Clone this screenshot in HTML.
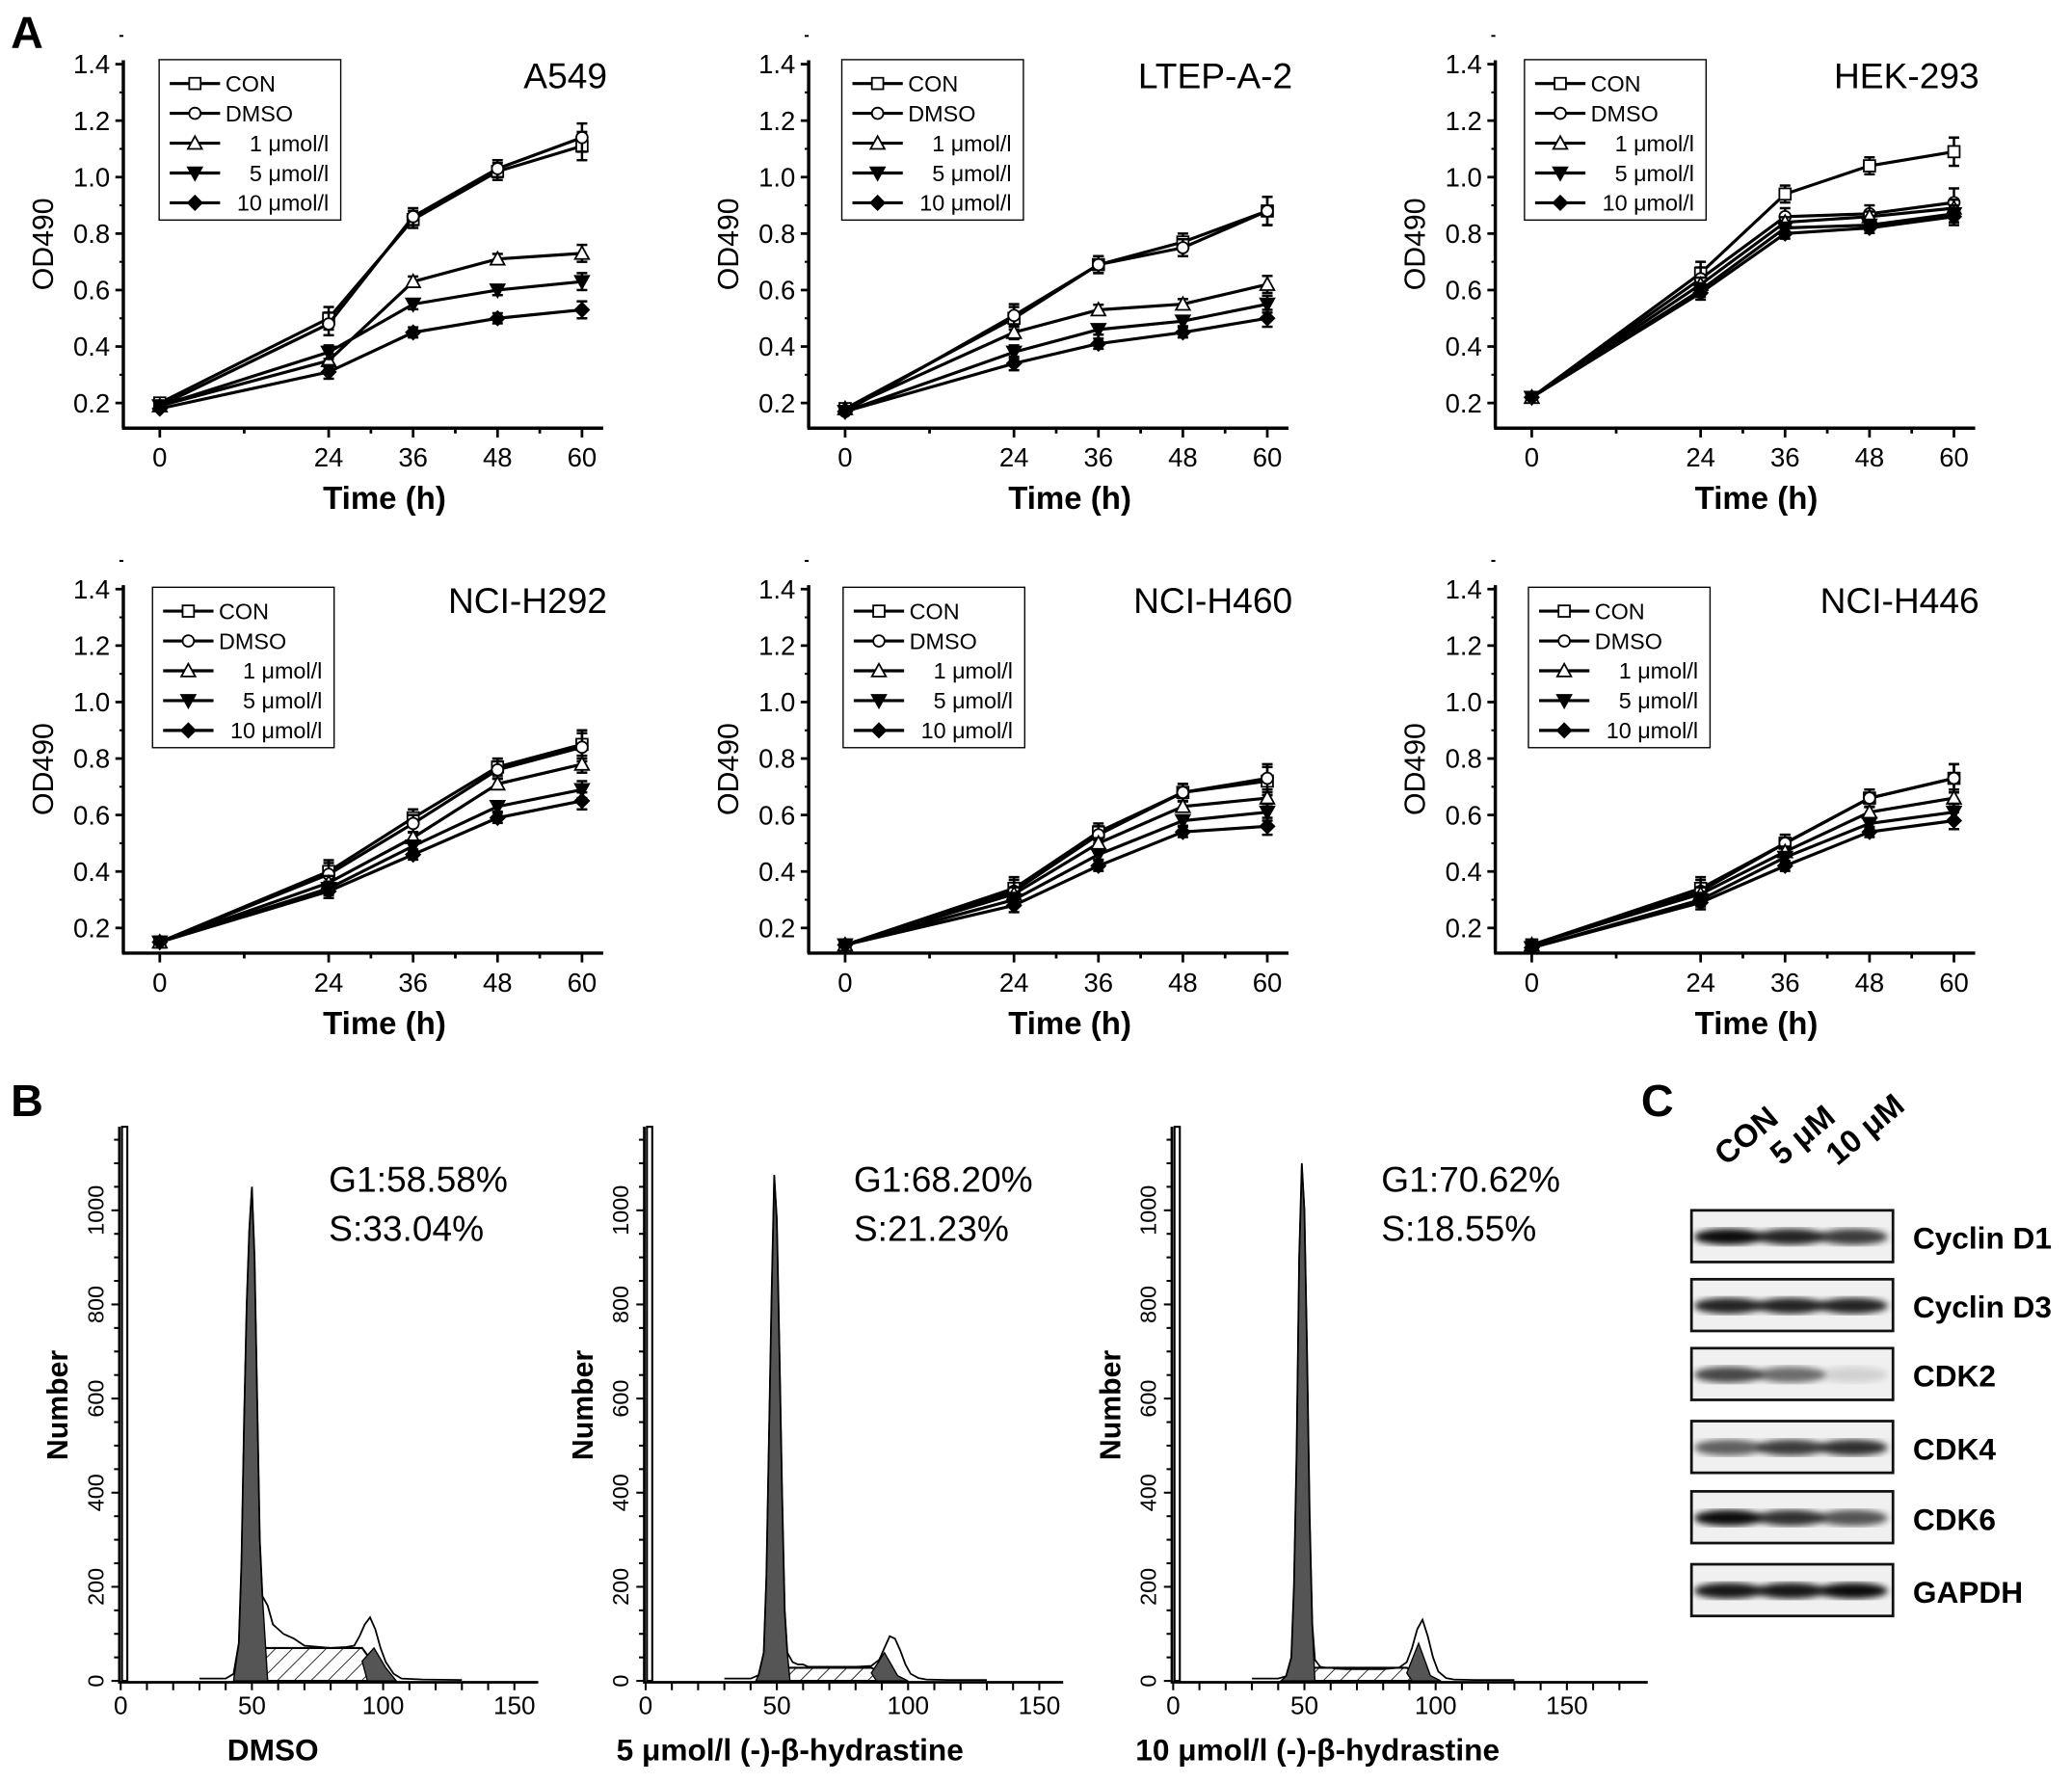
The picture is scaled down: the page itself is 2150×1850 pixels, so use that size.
<!DOCTYPE html>
<html><head><meta charset="utf-8"><style>
html,body{margin:0;padding:0;background:#fff;}
svg{display:block;font-family:"Liberation Sans",sans-serif;}
</style></head><body>
<svg id="fig" width="2150" height="1850" viewBox="0 0 1563 1345" xmlns="http://www.w3.org/2000/svg">
<defs>
<pattern id="hatch" patternUnits="userSpaceOnUse" width="9" height="9" patternTransform="rotate(45)"><rect width="9" height="9" fill="#fff"/><line x1="0" y1="0" x2="0" y2="9" stroke="#000" stroke-width="1.2"/></pattern>
<filter id="blur"><feGaussianBlur stdDeviation="2.6"/></filter>
</defs>
<text x="8" y="36" font-size="34" font-weight="bold">A</text>
<text x="8" y="842" font-size="34" font-weight="bold">B</text>
<text x="1238" y="842" font-size="34" font-weight="bold">C</text>
</svg>
<script>
const times=[0,24,36,48,60];
const minorTimes=[12,30,42,54];
const yTicks=[0.2,0.4,0.6,0.8,1.0,1.2,1.4];
const seriesNames=["CON","DMSO","1 μmol/l","5 μmol/l","10 μmol/l"];
const cellLines=["A549","LTEP-A-2","HEK-293","NCI-H292","NCI-H460","NCI-H446"];
const a549=[[0.20,0.50,0.85,1.02,1.11],[0.19,0.48,0.86,1.03,1.14],[0.19,0.35,0.63,0.71,0.73],[0.19,0.38,0.55,0.60,0.63],[0.18,0.31,0.45,0.50,0.53]];
const ltep=[[0.18,0.50,0.69,0.77,0.88],[0.17,0.51,0.69,0.75,0.88],[0.18,0.45,0.53,0.55,0.62],[0.17,0.38,0.46,0.49,0.55],[0.17,0.34,0.41,0.45,0.50]];
const hek=[[0.22,0.66,0.94,1.04,1.09],[0.22,0.64,0.86,0.87,0.91],[0.22,0.62,0.84,0.86,0.89],[0.22,0.60,0.82,0.83,0.87],[0.22,0.59,0.80,0.82,0.86]];
const h292=[[0.15,0.40,0.59,0.77,0.85],[0.15,0.39,0.57,0.76,0.84],[0.15,0.36,0.52,0.71,0.78],[0.15,0.34,0.49,0.63,0.69],[0.15,0.33,0.46,0.59,0.65]];
const h460=[[0.14,0.34,0.54,0.68,0.72],[0.14,0.33,0.53,0.68,0.73],[0.14,0.32,0.50,0.63,0.66],[0.14,0.30,0.46,0.58,0.61],[0.14,0.28,0.42,0.54,0.56]];
const h446=[[0.14,0.34,0.50,0.66,0.73],[0.14,0.33,0.50,0.66,0.73],[0.14,0.32,0.47,0.61,0.66],[0.13,0.30,0.45,0.57,0.61],[0.13,0.29,0.42,0.54,0.58]];
const errs=[0.02,0.04,0.03,0.03,0.05];
const histBins=[30,40,43,45,46,47,48,49,50,51,52,53,54,56,58,60,62,66,70,80,86,89,91,93,95,97,99,101,104,107,115,130];
const histDmso=[5,5,15,80,250,550,800,960,1050,900,600,300,180,160,120,110,100,90,75,70,72,75,95,120,135,110,70,40,15,5,3,2];
const histFive=[5,5,12,60,220,520,820,1075,980,700,400,150,60,40,35,35,30,30,30,30,32,45,70,95,90,65,35,15,6,3,2,2];
const histTen=[5,5,10,50,200,480,900,1100,1000,700,350,120,45,30,28,28,26,25,25,25,28,40,70,110,130,95,50,20,6,3,2,2];
const g1Peaks=[[43,56],[42,55],[41,54]];
const g2Peaks=[[92,101,70],[86,96,60],[89,98,80]];
const sLevels=[70,28,28];
const phaseTexts=[["G1:58.58%","S:33.04%"],["G1:68.20%","S:21.23%"],["G1:70.62%","S:18.55%"]];
const histLabels=["DMSO","5 μmol/l (-)-β-hydrastine","10 μmol/l (-)-β-hydrastine"];
const blotNames=["Cyclin D1","Cyclin D3","CDK2","CDK4","CDK6","GAPDH"];
const blotIntensity=[[0.95,0.85,0.75],[0.85,0.85,0.85],[0.7,0.55,0.12],[0.6,0.75,0.8],[0.95,0.8,0.65],[0.9,0.9,0.95]];
const laneNames=["CON","5 μM","10 μM"];

const NS="http://www.w3.org/2000/svg";
const svg=document.getElementById('fig');
function mk(tag,attrs,parent){const e=document.createElementNS(NS,tag);for(const k in attrs)e.setAttribute(k,attrs[k]);(parent||svg).appendChild(e);return e;}
function txt(s,attrs,parent){const e=mk('text',attrs,parent);e.textContent=s;return e;}

const growthData=[a549,ltep,hek,h292,h460,h446];
const colX=[93,610,1128];
const rowBase=[304,700];
const legendX=[120,635,1150,115,636,1153];
const legendY=[45,45,45,443,443,443];
function drawMarker(g,k,x,y){
  const s=4.3;let m;
  if(k===0)m=mk('rect',{x:x-s,y:y-s,width:2*s,height:2*s,fill:'#fff',stroke:'#000','stroke-width':1.3},g);
  else if(k===1)m=mk('circle',{cx:x,cy:y,r:s,fill:'#fff',stroke:'#000','stroke-width':1.3},g);
  else if(k===2)m=mk('polygon',{points:`${x},${y-s-1} ${x-s-1},${y+s} ${x+s+1},${y+s}`,fill:'#fff',stroke:'#000','stroke-width':1.3},g);
  else if(k===3)m=mk('polygon',{points:`${x},${y+s+1} ${x-s-1},${y-s} ${x+s+1},${y-s}`,fill:'#000',stroke:'#000','stroke-width':1.3},g);
  else m=mk('polygon',{points:`${x},${y-s-1} ${x+s+1},${y} ${x},${y+s+1} ${x-s-1},${y}`,fill:'#000',stroke:'#000','stroke-width':1.3},g);
  
  
}
growthData.forEach((data,p)=>{
  const ax=colX[p%3],base=rowBase[Math.floor(p/3)];
  const px=t=>ax+27.5+t*(63.7/12);
  const py=v=>base-(v-0.2)/0.2*42.6;
  const g=mk('g',{});
  
  
  const axBot=base+19, axTop=py(1.4)-3;
  const ya=mk('line',{x1:ax,y1:axTop,x2:ax,y2:axBot,stroke:'#000','stroke-width':2.5},g);
  
  const xa=mk('line',{x1:ax-1,y1:axBot,x2:ax+362,y2:axBot,stroke:'#000','stroke-width':2.5},g);
  
  yTicks.forEach(v=>{
    mk('line',{x1:ax-6,y1:py(v),x2:ax,y2:py(v),stroke:'#000','stroke-width':2},g);
    mk('line',{x1:ax-3,y1:py(v+0.1),x2:ax,y2:py(v+0.1),stroke:'#000','stroke-width':1.5},g);
    const t=txt(v.toFixed(1),{x:ax-10,y:py(v)+7,'font-size':20,'text-anchor':'end'},g);
    
  });
  times.forEach(t=>mk('line',{x1:px(t),y1:axBot,x2:px(t),y2:axBot+7,stroke:'#000','stroke-width':2},g));
  minorTimes.forEach(t=>mk('line',{x1:px(t),y1:axBot,x2:px(t),y2:axBot+4,stroke:'#000','stroke-width':2},g));
  times.forEach(t=>{const e=txt(String(t),{x:px(t),y:axBot+29,'font-size':20,'text-anchor':'middle'},g);});
  const xt=txt('Time (h)',{x:ax+197,y:axBot+61,'font-size':24,'font-weight':'bold','text-anchor':'middle'},g);
  
  const yt=txt('OD490',{x:0,y:0,'font-size':22,'text-anchor':'middle',transform:`translate(${ax-53},${(axTop+axBot)/2}) rotate(-90)`},g);
  
  const ti=txt(cellLines[p],{x:ax+365,y:py(1.4)+18,'font-size':27,'text-anchor':'end'},g);
  
  data.forEach((vals,k)=>{
    const pts=vals.map((v,i)=>px(times[i])+','+py(v)).join(' ');
    const l=mk('polyline',{points:pts,fill:'none',stroke:'#000','stroke-width':2.3},g);
    
    vals.forEach((v,i)=>{
      const e=errs[i]*(k<2?1:0.6);
      if(i>0){mk('line',{x1:px(times[i]),y1:py(v+e),x2:px(times[i]),y2:py(v-e),stroke:'#000','stroke-width':1.8},g);
      mk('line',{x1:px(times[i])-4,y1:py(v+e),x2:px(times[i])+4,y2:py(v+e),stroke:'#000','stroke-width':1.8},g);
      mk('line',{x1:px(times[i])-4,y1:py(v-e),x2:px(times[i])+4,y2:py(v-e),stroke:'#000','stroke-width':1.8},g);}
      drawMarker(g,k,px(times[i]),py(v));
    });
  });
  const lg=mk('g',{},g);
  
  const lx=legendX[p],ly=legendY[p];
  mk('rect',{x:lx,y:ly,width:137,height:121,fill:'#fff',stroke:'#000','stroke-width':1},lg);
  seriesNames.forEach((n,k)=>{
    const yy=ly+18+k*22.5;
    const e=mk('g',{},lg);
    
    mk('line',{x1:lx+8,y1:yy,x2:lx+46,y2:yy,stroke:'#000','stroke-width':2.3},e);
    drawMarker(e,k,lx+27,yy);
    const anchorX=k<2?lx+50:lx+128;
    txt(n,{x:anchorX,y:yy+6,'font-size':17,'text-anchor':k<2?'start':'end'},e);
  });
});

// Panel B histograms
const histData=[histDmso,histFive,histTen];
const histX=[91,487,885];
histData.forEach((counts,p)=>{
  const x0=histX[p];
  const hx=v=>x0+v*1.98;
  const hy=c=>1268-c*0.355;
  const g=mk('g',{});
  
  
  const [g1a,g1b]=g1Peaks[p];const [g2a,g2b,g2h]=g2Peaks[p];const s=sLevels[p];
  const sp=mk('polygon',{points:`${hx(g1a+5)},${hy(0)} ${hx(g1b-2)},${hy(s)} ${hx(g2a)},${hy(s)} ${hx(g2b)},${hy(0)}`,fill:'url(#hatch)',stroke:'#000','stroke-width':1.5},g);
  
  let g1pts=[hx(g1a)+','+hy(0)];histBins.forEach((b,i)=>{if(b>g1a&&b<g1b)g1pts.push(hx(b)+','+hy(counts[i]));});g1pts.push(hx(g1b)+','+hy(0));
  const g1=mk('polygon',{points:g1pts.join(' '),fill:'#555',stroke:'#000','stroke-width':1},g);
  
  const mid=(g2a+g2b)/2;
  const g2=mk('polygon',{points:`${hx(g2a)},${hy(s*0.6)} ${hx(mid)},${hy(g2h)} ${hx(g2b)},${hy(s*0.4)} ${hx(g2b+4)},${hy(0)} ${hx(g2a+2)},${hy(0)}`,fill:'#555',stroke:'#000','stroke-width':1},g);
  
  const env=mk('polyline',{points:histBins.map((b,i)=>hx(b)+','+hy(counts[i])).join(' '),fill:'none',stroke:'#000','stroke-width':1.3},g);
  
  const ya=mk('line',{x1:x0-1,y1:850,x2:x0-1,y2:1270,stroke:'#000','stroke-width':2},g);
  
  mk('rect',{x:x0+1,y:850,width:4,height:418,fill:'#fff',stroke:'#000','stroke-width':1.5},g);
  const xa=mk('line',{x1:x0-1,y1:1269,x2:x0+(p===2?358:315),y2:1269,stroke:'#000','stroke-width':2},g);
  
  for(let c=0;c<=1150;c+=50)mk('line',{x1:x0-(c%200===0?7:5),y1:hy(c),x2:x0-1,y2:hy(c),stroke:'#000','stroke-width':1.5},g);
  for(let c=0;c<=1000;c+=200){const t=txt(String(c),{x:0,y:0,'font-size':17,'text-anchor':'middle',transform:`translate(${x0-13},${hy(c)}) rotate(-90)`},g);}
  for(let v=0;v<=(p===2?175:155);v+=10)mk('line',{x1:hx(v),y1:1269,x2:hx(v),y2:1275,stroke:'#000','stroke-width':1.5},g);
  [0,50,100,150].forEach(v=>{const t=txt(String(v),{x:hx(v),y:1293,'font-size':19,'text-anchor':'middle'},g);});
  const yt=txt('Number',{x:0,y:0,'font-size':22,'font-weight':'bold','text-anchor':'middle',transform:`translate(${x0-40},1060) rotate(-90)`},g);
  
  const xt=txt(histLabels[p],{x:hx(p===0?58:55),y:1328,'font-size':23,'font-weight':'bold','text-anchor':'middle'},g);
  
  phaseTexts[p].forEach((s2,j)=>{const t=txt(s2,{x:x0+157,y:899+j*37,'font-size':27},g);});
});

// Panel C western blot
const bg=mk('g',{});

const rowTop=[913,965,1017,1072,1125,1180];
laneNames.forEach((n,i)=>{const t=txt(n,{x:0,y:0,'font-size':24,'font-weight':'bold',transform:`translate(${1302+i*42},880) rotate(-40)`},bg);});
blotNames.forEach((n,r)=>{
  const y=rowTop[r];
  const b=mk('rect',{x:1276,y:y,width:152,height:39,fill:'#f0f0f0',stroke:'#111','stroke-width':2},bg);
  
  blotIntensity[r].forEach((v,i)=>{
    const e=mk('ellipse',{cx:1304+i*47,cy:y+20,rx:26,ry:6,fill:'#000',opacity:v,filter:'url(#blur)'},bg);
    
  });
  const t=txt(n,{x:1443,y:y+29,'font-size':23,'font-weight':'bold'},bg);
  
});
</script>
</body></html>
